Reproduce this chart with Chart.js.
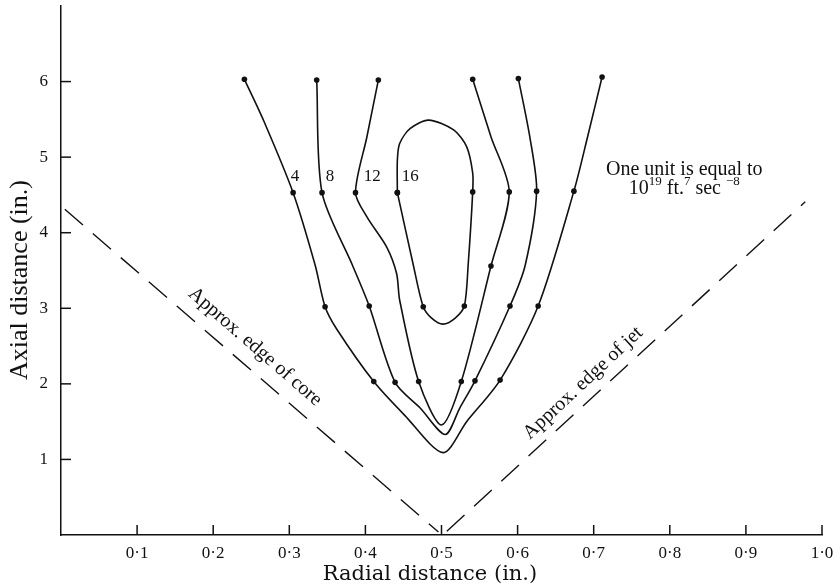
<!DOCTYPE html>
<html lang="en">
<head>
<meta charset="UTF-8">
<title>Contours of axial vs radial distance</title>
<script src="https://cdn.jsdelivr.net/npm/chart.js"></script>
<style>
  body { margin: 0; background: #fff; }
  #wrap { width: 835px; height: 587px; }
</style>
</head>
<body>
<div id="wrap"><canvas id="chart" width="835" height="587"></canvas></div>
<script>
const curve4 = [[0.241, 6.03, 1], [0.266, 5.49, 0], [0.305, 4.53, 1], [0.334, 3.57, 0], [0.347, 3.02, 1],
  [0.362, 2.73, 0], [0.411, 2.03, 1], [0.452, 1.58, 0], [0.502, 1.09, 0], [0.533, 1.50, 0],
  [0.577, 2.05, 1], [0.627, 3.03, 1], [0.674, 4.55, 1], [0.692, 5.27, 0], [0.711, 6.06, 1]];
const curve8 = [[0.336, 6.02, 1], [0.343, 4.53, 1], [0.383, 3.57, 0], [0.405, 3.03, 1], [0.439, 2.02, 1],
  [0.472, 1.68, 0], [0.505, 1.33, 0], [0.524, 1.68, 0], [0.544, 2.04, 1], [0.590, 3.03, 1],
  [0.610, 3.57, 0], [0.625, 4.55, 1], [0.616, 5.27, 0], [0.601, 6.04, 1]];
const curve12 = [[0.417, 6.02, 1], [0.402, 5.27, 0], [0.387, 4.53, 1], [0.402, 4.21, 0], [0.428, 3.81, 0],
  [0.441, 3.46, 0], [0.445, 3.11, 0], [0.470, 2.03, 1], [0.500, 1.455, 0], [0.526, 2.03, 1],
  [0.565, 3.56, 1], [0.589, 4.54, 1], [0.565, 5.27, 0], [0.541, 6.03, 1]];
const curve16 = [[0.442, 4.53, 1], [0.442, 4.96, 0], [0.445, 5.18, 0], [0.459, 5.38, 0], [0.483, 5.49, 0],
  [0.516, 5.36, 0], [0.533, 5.14, 0], [0.541, 4.79, 0], [0.541, 4.54, 1], [0.535, 3.57, 0],
  [0.530, 3.03, 1], [0.518, 2.87, 0], [0.502, 2.79, 0], [0.487, 2.87, 0], [0.476, 3.02, 1],
  [0.463, 3.57, 0], [0.442, 4.53, 1]];

const coreEdge = [[0.005, 4.31], [0.496, 0.04]];
const jetEdge = [[0.507, 0.05], [0.978, 4.41]];

const contourNames = ['4', '8', '12', '16'];
const contourLabelX = [0.3075, 0.3535, 0.409, 0.459];
const contourLabelY = 4.75;

const ink = '#111';
const serif = 'Liberation Serif, Times New Roman, serif';

function contour(pts) {
  return {
    data: pts.map(p => ({ x: p[0], y: p[1] })),
    showLine: true,
    tension: 0.28,
    borderColor: ink,
    borderWidth: 1.6,
    backgroundColor: ink,
    pointRadius: ctx => (pts[ctx.dataIndex] && pts[ctx.dataIndex][2] ? 2.8 : 0),
    pointBorderWidth: 0,
    fill: false
  };
}

function dashed(pts) {
  return {
    data: pts.map(p => ({ x: p[0], y: p[1] })),
    showLine: true,
    borderColor: ink,
    borderWidth: 1.4,
    borderDash: [24, 13],
    pointRadius: 0,
    fill: false
  };
}

const annotations = {
  id: 'annotations',
  afterDraw(chart) {
    const { ctx, chartArea: a, scales: { x, y } } = chart;
    ctx.save();
    ctx.strokeStyle = ink;
    ctx.fillStyle = ink;
    ctx.lineWidth = 1.5;

    // inward tick marks
    x.ticks.forEach(t => {
      if (t.value < 0.05) return;
      const px = x.getPixelForValue(t.value);
      ctx.beginPath(); ctx.moveTo(px, a.bottom); ctx.lineTo(px, a.bottom - 10); ctx.stroke();
    });
    y.ticks.forEach(t => {
      if (t.value === 0 || t.value === 7) return;
      const py = y.getPixelForValue(t.value);
      ctx.beginPath(); ctx.moveTo(a.left, py); ctx.lineTo(a.left + 10, py); ctx.stroke();
    });

    // contour labels
    ctx.font = '17px ' + serif;
    ctx.textAlign = 'center';
    ctx.textBaseline = 'middle';
    contourNames.forEach((n, i) => {
      ctx.fillText(n, x.getPixelForValue(contourLabelX[i]), y.getPixelForValue(contourLabelY));
    });

    // unit note
    ctx.font = '20px ' + serif;
    const nx = x.getPixelForValue(0.819);
    ctx.fillText('One unit is equal to', nx, y.getPixelForValue(4.83));
    const parts = [['10', 0], ['19', 1], [' ft.', 0], ['7', 1], [' sec ', 0], ['\u2212', 1], ['8', 1]];
    const w = parts.reduce((s, p) => {
      ctx.font = (p[1] ? '13px ' : '20px ') + serif;
      return s + ctx.measureText(p[0]).width;
    }, 0);
    let cx = nx - w / 2;
    const ly = y.getPixelForValue(4.58);
    ctx.textAlign = 'left';
    parts.forEach(p => {
      ctx.font = (p[1] ? '13px ' : '20px ') + serif;
      ctx.fillText(p[0], cx, p[1] ? ly - 7 : ly);
      cx += ctx.measureText(p[0]).width;
    });

    // rotated edge labels
    ctx.font = '20px ' + serif;
    ctx.textAlign = 'center';
    [['Approx. edge of core', 0.2550, 2.49, 41], ['Approx. edge of jet', 0.686, 2.01, -43]].forEach(l => {
      ctx.save();
      ctx.translate(x.getPixelForValue(l[1]), y.getPixelForValue(l[2]));
      ctx.rotate(l[3] * Math.PI / 180);
      ctx.fillText(l[0], 0, 0);
      ctx.restore();
    });

    // axis titles
    ctx.font = '21px DejaVu Serif, serif';
    ctx.fillText('Radial distance (in.)', 430, 575);
    ctx.save();
    ctx.translate(20, 280);
    ctx.rotate(-Math.PI / 2);
    ctx.font = '26px ' + serif;
    ctx.fillText('Axial distance (in.)', 0, 0);
    ctx.restore();

    ctx.restore();
  }
};

new Chart(document.getElementById('chart'), {
  type: 'scatter',
  data: {
    datasets: [contour(curve4), contour(curve8), contour(curve12), contour(curve16), dashed(coreEdge), dashed(jetEdge)]
  },
  options: {
    responsive: false,
    animation: false,
    layout: { padding: { left: 0, right: 13, top: 6, bottom: 0 } },
    plugins: { legend: { display: false }, tooltip: { enabled: false } },
    scales: {
      x: {
        type: 'linear', min: 0, max: 1,
        grid: { display: false },
        border: { display: true, color: ink, width: 1.5 },
        ticks: {
          stepSize: 0.1, padding: 0, maxRotation: 0, autoSkip: false, color: ink,
          font: { family: serif, size: 17 },
          callback: v => (v < 0.05 ? null : v.toFixed(1).replace('.', '\u00b7'))
        },
        afterFit: s => { s.height = 52; s.paddingLeft = 0; s.paddingRight = 0; }
      },
      y: {
        type: 'linear', min: 0, max: 7,
        grid: { display: false },
        border: { display: true, color: ink, width: 1.5 },
        ticks: {
          stepSize: 1, padding: 5, color: ink,
          font: { family: serif, size: 17 },
          callback: v => (v === 0 || v === 7 ? null : String(v))
        },
        afterFit: s => { s.width = 61; s.paddingTop = 0; s.paddingBottom = 0; }
      }
    }
  },
  plugins: [annotations]
});
</script>
</body>
</html>
